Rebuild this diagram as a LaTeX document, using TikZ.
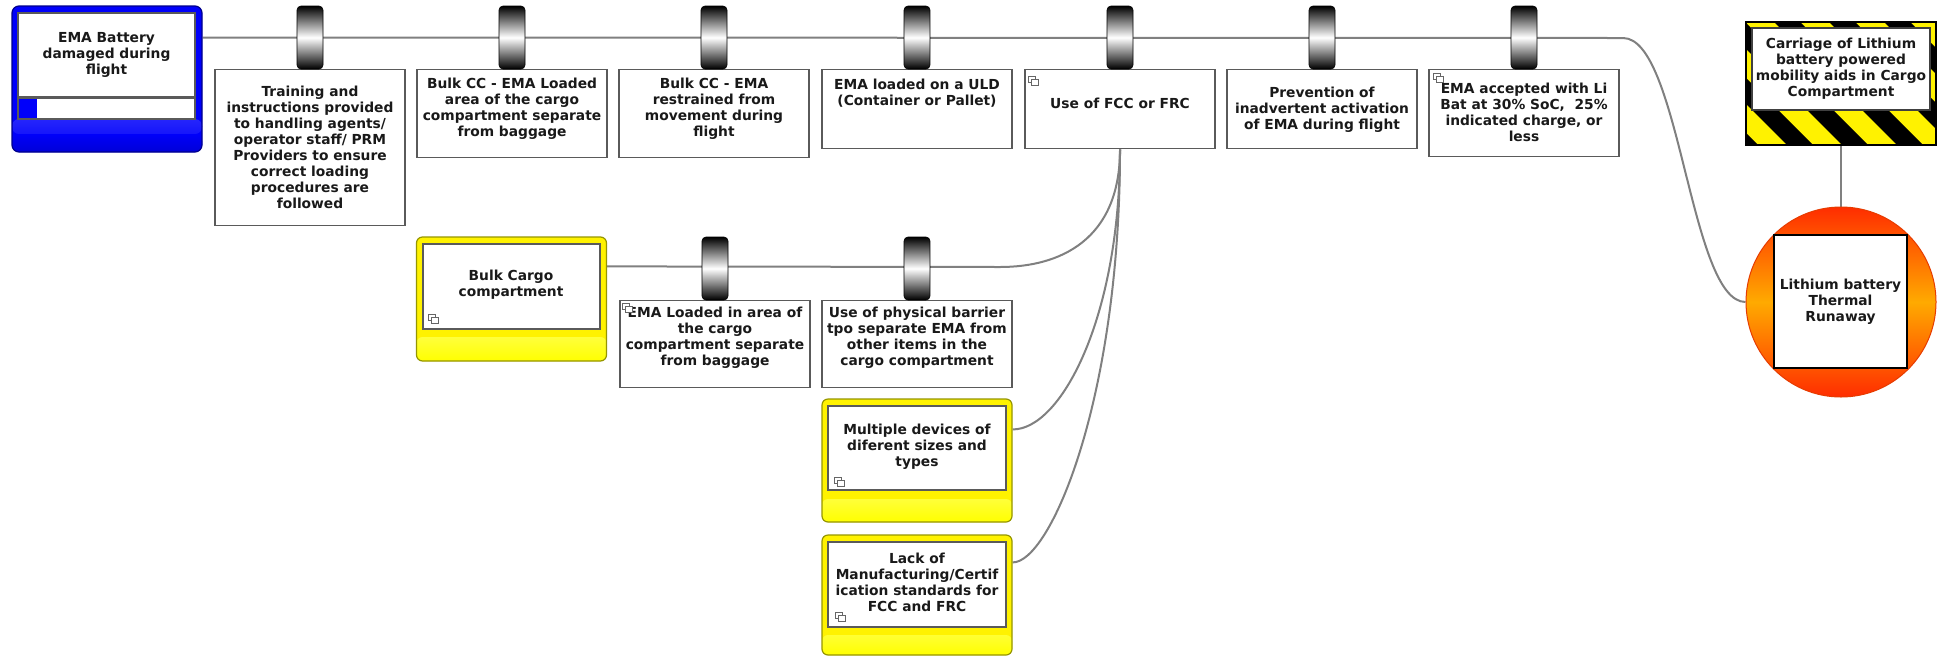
\documentclass[tikz,border=0pt]{standalone}
\usepackage{fontspec}
\setmainfont{DejaVu Sans}
\pgfdeclarelayer{back}
\pgfdeclarelayer{lines}
\pgfsetlayers{back,lines,main}
\definecolor{linegray}{RGB}{128,128,128}
\definecolor{boxedge}{RGB}{90,90,90}
\definecolor{txtcol}{RGB}{25,25,25}
\definecolor{threatblue}{RGB}{0,0,250}
\definecolor{threatdark}{RGB}{0,0,215}
\definecolor{threatedge}{RGB}{0,0,140}
\definecolor{yeledge}{RGB}{150,150,0}
\definecolor{hotred}{RGB}{255,45,0}
\definecolor{hotorange}{RGB}{255,170,0}
\definecolor{hotedge}{RGB}{230,60,0}
\tikzset{
  conn/.style={draw=linegray, line width=2},
  barbox/.style={draw=boxedge, line width=1.4, fill=white, minimum width=190, inner sep=0, anchor=north},
  lbl/.style={font=\bfseries\fontsize{13.8}{16}\selectfont, text=txtcol, align=center, inner sep=0},
  cyl/.style={rounded corners=4, draw=black, line width=0.6, top color=black, bottom color=black, middle color=white, minimum width=26, minimum height=63, inner sep=0},
  yelbox/.style={rounded corners=6, draw=yeledge, line width=1.2, fill=yellow, minimum width=190, inner sep=0,
    path picture={\shade[top color=yellow, bottom color=yellow, middle color=yellow!40!white]
      ([yshift=-100pt]path picture bounding box.north west) rectangle (path picture bounding box.south east);}},
  inbox/.style={draw=boxedge, line width=1.2, fill=white, inner sep=0},
  pics/dup/.style={code={
    \draw[draw=gray!80!black, fill=white, line width=0.7] (0,0) rectangle (7,6);
    \draw[draw=gray!80!black, fill=white, line width=0.7] (3,3) rectangle (10,9);
  }}
}
\begin{document}
\begin{tikzpicture}[x=1pt, y=-1pt]
\useasboundingbox (0,0) rectangle (1940,657);
\begin{pgfonlayer}{back}
  \fill[white] (0,0) rectangle (1940,657);
\end{pgfonlayer}

% threat
\node[rounded corners=7, draw=threatedge, line width=1.2, fill=threatblue, minimum width=190, minimum height=146, inner sep=0,
  path picture={\shade[top color=blue!35!white, bottom color=threatblue] ([yshift=-113pt]path picture bounding box.north west) rectangle ([yshift=-128pt]path picture bounding box.north east);
                \shade[top color=threatblue, bottom color=threatdark] ([yshift=-128pt]path picture bounding box.north west) rectangle (path picture bounding box.south east);}] (threat) at (107,79) {};
\node[inbox, lbl, minimum width=177, minimum height=84] (threatt) at (106.5,55) {EMA Battery\\damaged during\\flight};
\node[inbox, minimum width=177, minimum height=21, path picture={\fill[threatblue] (path picture bounding box.north west) rectangle ([xshift=19pt]path picture bounding box.south west);}] (strip) at (106.5,108.5) {};

% barriers on the main pathway
\node[barbox, minimum height=156] (b1) at (310,69) {};
\node[lbl] (b1t) at (310,147) {Training and\\instructions provided\\to handling agents/\\operator staff/ PRM\\Providers to ensure\\correct loading\\procedures are\\followed};
\node[cyl] (c1) at (310,37.5) {};

\node[barbox, minimum height=88] (b2) at (512,69) {};
\node[lbl] (b2t) at (512,109) {Bulk CC - EMA Loaded\\area of the cargo\\compartment separate\\from baggage};
\node[cyl] (c2) at (512,37.5) {};

\node[barbox, minimum height=88] (b3) at (714,69) {};
\node[lbl] (b3t) at (714,109) {Bulk CC - EMA\\restrained from\\movement during\\flight};
\node[cyl] (c3) at (714,37.5) {};

\node[barbox, minimum height=79] (b4) at (917,69) {};
\node[lbl] (b4t) at (917,93) {EMA loaded on a ULD\\(Container or Pallet)};
\node[cyl] (c4) at (917,37.5) {};

\node[barbox, minimum height=79] (b5) at (1120,69) {};
\node[lbl] (b5t) at (1120,103) {Use of FCC or FRC};
\node[cyl] (c5) at (1120,37.5) {};
\pic at (1028,76) {dup};

\node[barbox, minimum height=79] (b6) at (1322,69) {};
\node[lbl] (b6t) at (1322,110) {Prevention of\\inadvertent activation\\of EMA during flight};
\node[cyl] (c6) at (1322,37.5) {};

\node[barbox, minimum height=87] (b7) at (1524,69) {};
\node[lbl] (b7t) at (1524,112) {EMA accepted with Li\\Bat at 30\% SoC,\ \ 25\%\\indicated charge, or\\less};
\node[cyl] (c7) at (1524,37.5) {};
\pic at (1433,73) {dup};

% escalation factor branch
\node[yelbox, minimum height=124] (bulk) at (511.5,299) {};
\node[inbox, minimum width=177, minimum height=85] (bulkin) at (511.5,286.5) {};
\node[lbl] (bulkt) at (511,285) {Bulk Cargo\\compartment};
\pic at (428,314) {dup};

\node[barbox, minimum height=87] (s1) at (715,300) {};
\node[lbl] (s1t) at (715,338) {EMA Loaded in area of\\the cargo\\compartment separate\\from baggage};
\node[cyl] (sc1) at (715,268.5) {};
\pic at (622,303) {dup};

\node[barbox, minimum height=87] (s2) at (917,300) {};
\node[lbl] (s2t) at (917,338) {Use of physical barrier\\tpo separate EMA from\\other items in the\\cargo compartment};
\node[cyl] (sc2) at (917,268.5) {};

\node[yelbox, minimum height=123] (multi) at (917,460.5) {};
\node[inbox, minimum width=178, minimum height=84] (multiin) at (917,448) {};
\node[lbl] (multit) at (917,447) {Multiple devices of\\diferent sizes and\\types};
\pic at (834,477) {dup};

\node[yelbox, minimum height=120] (lack) at (917,595) {};
\node[inbox, minimum width=178, minimum height=85] (lackin) at (917,584.5) {};
\node[lbl] (lackt) at (917,582) {Lack of\\Manufacturing/Certif\\ication standards for\\FCC and FRC};
\pic at (835,612) {dup};

% hazard with warning stripes
\begin{scope}
  \clip (1746,22) rectangle (1936,145);
  \fill[yellow] (1746,22) rectangle (1936,145);
  \foreach \k in {0,...,6}
    \fill[black] ({1609+55*\k},22) -- ++(26,0) -- ++(123,123) -- ++(-26,0) -- cycle;
\end{scope}
\node[draw=black, line width=1.2, minimum width=190, minimum height=123, inner sep=0] (haz) at (1841,83.5) {};
\node[inbox, lbl, draw=black!75, minimum width=178, minimum height=82] (hazt) at (1841,69) {Carriage of Lithium\\battery powered\\mobility aids in Cargo\\Compartment};

% top event
\node[circle, draw=hotedge, line width=1, top color=hotred, bottom color=hotred, middle color=hotorange, minimum size=190, inner sep=0] (top) at (1841,302) {};
\node[inbox, lbl, draw=black, minimum size=133] (topt) at (1840.5,301.5) {Lithium battery\\Thermal\\Runaway};

% connectors
\begin{pgfonlayer}{lines}
  \coordinate (mbend) at (1623,38);
  \coordinate (sbend) at (1000,267);
  \draw[conn] (threat.east |- c1.center) -- (mbend) .. controls (1680,38) and (1690,302) .. (top.west);
  \draw[conn] (haz.south) -- (top.north);
  \draw[conn] ([yshift=-30pt]bulk.north east) -- (sbend) .. controls (1060,267) and (1120,240) .. (b5.south);
  \draw[conn] ([yshift=-31pt]multi.north east) .. controls (1060,430) and (1120,320) .. (b5.south);
  \draw[conn] ([yshift=-28pt]lack.north east) .. controls (1050,563) and (1120,400) .. (b5.south);
\end{pgfonlayer}
\end{tikzpicture}
\end{document}
